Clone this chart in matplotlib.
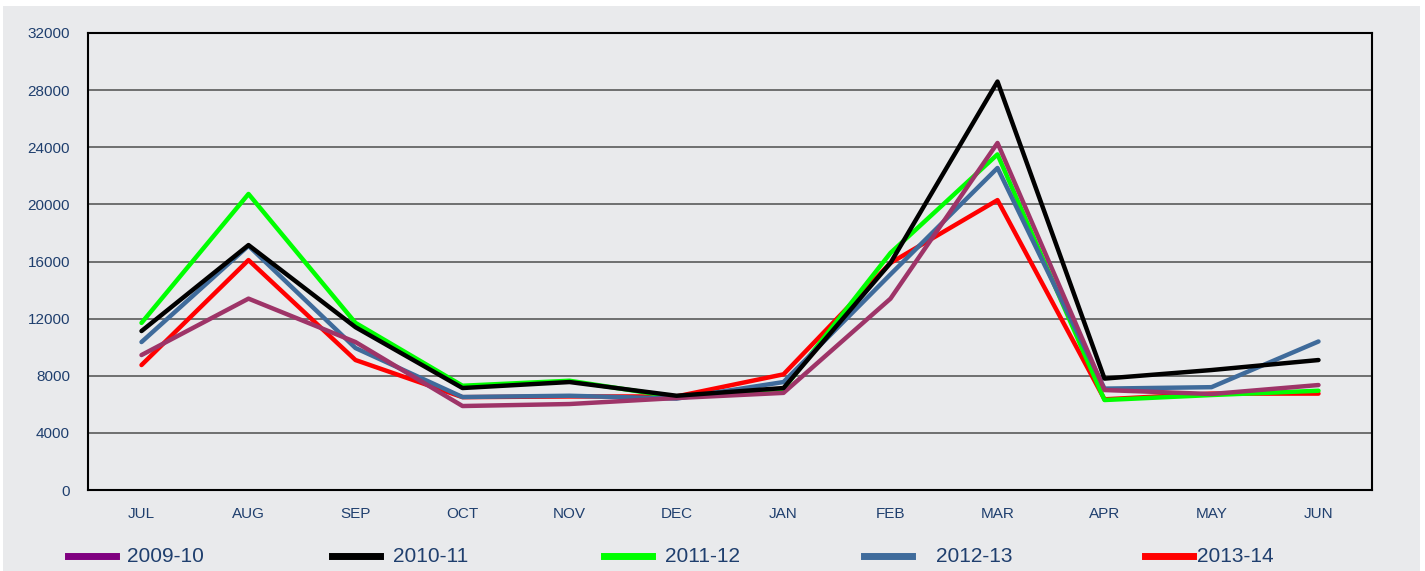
import matplotlib
matplotlib.use("Agg")
import matplotlib.pyplot as plt
from matplotlib.lines import Line2D

plt.rcParams['font.family'] = ['Liberation Sans', 'DejaVu Sans']

months = ["JUL", "AUG", "SEP", "OCT", "NOV", "DEC",
          "JAN", "FEB", "MAR", "APR", "MAY", "JUN"]

s2009_10 = [9450, 13400, 10360, 5880, 6020, 6440, 6800, 13400, 24300, 7000, 6720, 7350]
s2010_11 = [11130, 17150, 11400, 7140, 7560, 6600, 7140, 15900, 28600, 7800, 8400, 9100]
s2011_12 = [11700, 20730, 11700, 7300, 7650, 6500, 7070, 16600, 23500, 6300, 6650, 6950]
s2012_13 = [10360, 17100, 9940, 6510, 6600, 6400, 7560, 15100, 22550, 7100, 7200, 10400]
s2013_14 = [8750, 16100, 9100, 6500, 6550, 6550, 8100, 15900, 20300, 6350, 6750, 6750]

years = ["2009-10", "2010-11", "2011-12", "2012-13", "2013-14"]
series = [s2009_10, s2010_11, s2011_12, s2012_13, s2013_14]
line_colors = ["#9E3468", "#000000", "#00FF00", "#3F6B9B", "#FF0000"]
legend_colors = ["#800080", "#000000", "#00FF00", "#3F6B9B", "#FF0000"]
zorders = [5, 6, 3, 4, 2]

bg = "#E9EAEC"
txt = "#1F3F6E"
W, H = 1425, 571

fig = plt.figure(figsize=(14.25, 5.71), dpi=100)
fig.patch.set_facecolor("white")
fig.patches.append(plt.Rectangle((3 / W, 0), 1417 / W, 565 / H,
                                 transform=fig.transFigure, facecolor=bg,
                                 edgecolor="none", zorder=-10))

ax = fig.add_axes([88 / W, 1 - 490 / H, 1284 / W, 457 / H])
ax.set_facecolor(bg)

x = range(len(months))
for vals, col, z in zip(series, line_colors, zorders):
    ax.plot(x, vals, color=col, lw=3.2, solid_capstyle="round", zorder=z)

ax.set_xlim(-0.5, len(months) - 0.5)
ax.set_ylim(0, 32000)
ax.set_yticks(range(0, 32001, 4000))
ax.set_xticks(list(x))
ax.set_xticklabels(months)
ax.yaxis.grid(True, color="#5A5A5A", lw=1.2, zorder=1)
ax.set_axisbelow(True)
ax.tick_params(axis="both", length=0, labelsize=11, labelcolor=txt)
ax.tick_params(axis="y", pad=13)
ax.tick_params(axis="x", pad=12)
for sp in ax.spines.values():
    sp.set_color("black")
    sp.set_linewidth(1.5)

# legend laid out by hand, spacing as in the original
sw_left = [68, 332, 604, 864, 1145]
txt_left = [127, 393, 665, 936, 1197]
ly = 1 - 556 / H
for name, col, a, b in zip(years, legend_colors, sw_left, txt_left):
    fig.add_artist(Line2D([a / W, (a + 48) / W], [ly, ly], color=col, lw=5,
                          transform=fig.transFigure))
    fig.text(b / W, ly, name, color=txt, fontsize=15, va="center", ha="left")

fig.savefig("out.png", dpi=100, facecolor=fig.get_facecolor())
